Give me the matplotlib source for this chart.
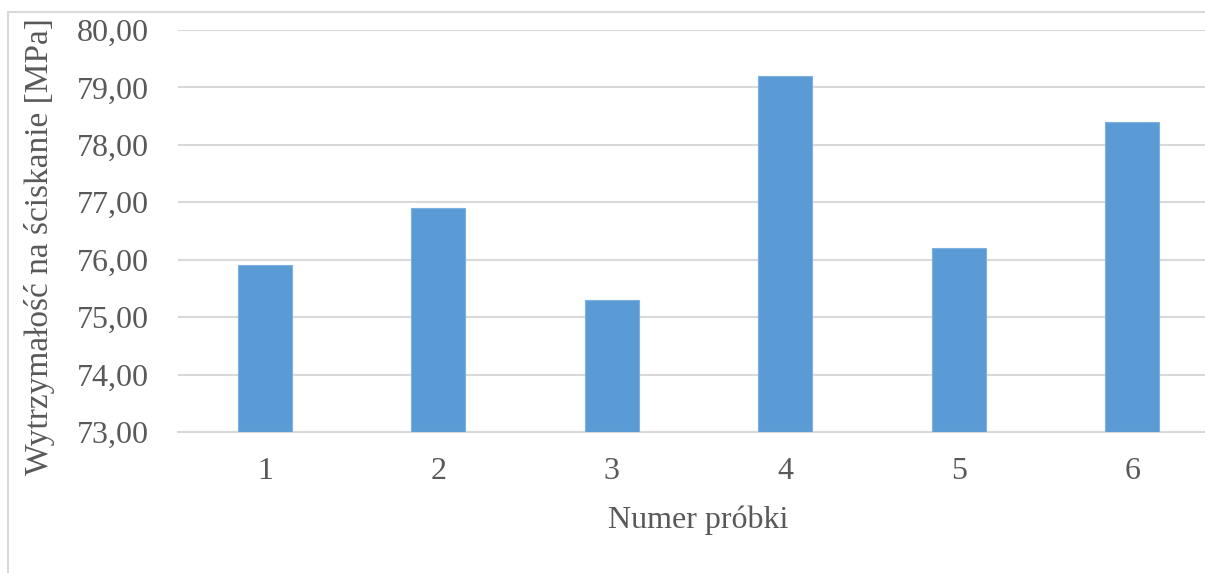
import matplotlib
matplotlib.use("Agg")
import matplotlib.pyplot as plt
from matplotlib.patches import Rectangle

categories = ["1", "2", "3", "4", "5", "6"]
values = [75.9, 76.9, 75.3, 79.2, 76.2, 78.4]
yticks = [73, 74, 75, 76, 77, 78, 79, 80]
ytick_labels = ["73,00", "74,00", "75,00", "76,00", "77,00", "78,00", "79,00", "80,00"]
xlabel = "Numer próbki"
ylabel = "Wytrzymałość na ściskanie [MPa]"

W, H = 1205, 573
fig = plt.figure(figsize=(W / 100, H / 100), dpi=100)
plt.rcParams['font.family'] = ['Liberation Serif', 'DejaVu Serif']
text_color = "#595959"
grid_color = "#D9D9D9"

# figure border
fig.patches.append(Rectangle((8 / W, -0.1), 1.2, (H - 12) / H + 0.1, transform=fig.transFigure,
                             fill=False, edgecolor=grid_color, linewidth=1.5))

left, right, top, bottom = 178, 1219, 30, 432
ax = fig.add_axes([left / W, 1 - bottom / H, (right - left) / W, (bottom - top) / H])
x = list(range(1, len(categories) + 1))
ax.bar(x, [v - 73 for v in values], bottom=73, width=0.31, color="#5B9BD5",
       edgecolor="#7FB0E0", linewidth=0.8, zorder=3)
ax.set_xlim(0.5, 6.5)
ax.set_ylim(73, 80)
ax.set_yticks(yticks)
ax.set_yticklabels(ytick_labels)
ax.set_xticks(x)
ax.set_xticklabels(categories)
ax.yaxis.grid(True, color=grid_color, linewidth=1.5, zorder=0)
ax.set_axisbelow(True)
for s in ["top", "right", "left"]:
    ax.spines[s].set_visible(False)
ax.spines["bottom"].set_color(grid_color)
ax.spines["bottom"].set_linewidth(1.5)
ax.tick_params(axis="both", length=0, labelsize=23, colors=text_color)
ax.tick_params(axis="y", pad=21)
ax.tick_params(axis="x", pad=18)
ax.set_xlabel(xlabel, fontsize=23, color=text_color, labelpad=14)
ax.set_ylabel(ylabel, fontsize=24, color=text_color)
ax.yaxis.set_label_coords(-123 / (right - left), (bottom - 247) / (bottom - top))
fig.savefig("out.png", dpi=100)
